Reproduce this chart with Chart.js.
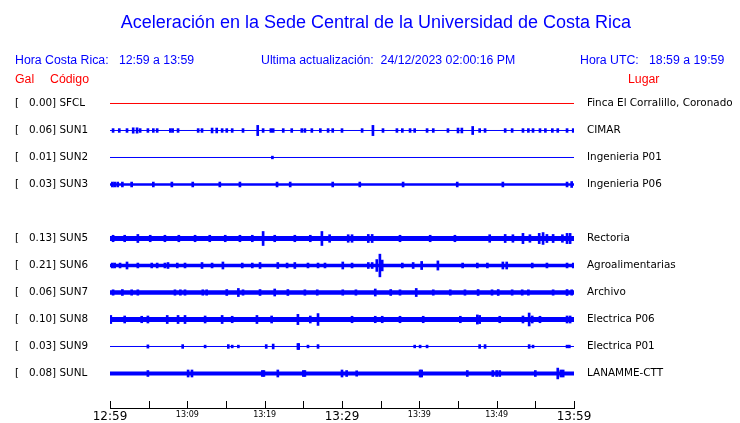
<!DOCTYPE html>
<html>
<head>
<meta charset="utf-8">
<script src="https://cdn.jsdelivr.net/npm/chart.js@4/dist/chart.umd.min.js"></script>
<style>
  html, body { margin: 0; padding: 0; background: #fff; }
  #wrap { position: relative; width: 740px; height: 423px; overflow: hidden; }
  #wrap canvas { position: absolute; left: 0; top: 0; }
  .t { position: absolute; white-space: pre; font-family: "Liberation Sans", Arial, sans-serif; line-height: 1; }
  .title { font-size: 18px; color: #0000ff; top: 13px; left: 0; width: 752px; text-align: center; }
  .hdr { font-size: 12.3px; color: #0000ff; top: 54px; }
  .red { font-size: 12.3px; color: #ff0000; top: 73px; }
</style>
</head>
<body>
<div id="wrap">
  <canvas id="seis" width="740" height="423"></canvas>
  <div class="t title">Aceleración en la Sede Central de la Universidad de Costa Rica</div>
  <div class="t hdr" style="left:15px">Hora Costa Rica:   12:59 a 13:59</div>
  <div class="t hdr" style="left:261px">Ultima actualización:  24/12/2023 02:00:16 PM</div>
  <div class="t hdr" style="left:580px">Hora UTC:   18:59 a 19:59</div>
  <div class="t red" style="left:15px">Gal</div>
  <div class="t red" style="left:50px">Código</div>
  <div class="t red" style="left:628px">Lugar</div>
</div>
<script>
// ------- data -------
const codes  = ['SFCL', 'SUN1', 'SUN2', 'SUN3', 'SUN5', 'SUN6', 'SUN7', 'SUN8', 'SUN9', 'SUNL'];
const gal    = ['0.00', '0.06', '0.01', '0.03', '0.13', '0.21', '0.06', '0.10', '0.03', '0.08'];
const places = ['Finca El Corralillo, Coronado', 'CIMAR', 'Ingenieria P01', 'Ingenieria P06', 'Rectoria',
                'Agroalimentarias', 'Archivo', 'Electrica P06', 'Electrica P01', 'LANAMME-CTT'];
const rows   = [0, 1, 2, 3, 5, 6, 7, 8, 9, 10];          // trace slot (row 4 is empty)
const bandHalf = [0, 0, 0, 0.05, 0.09, 0.065, 0.08, 0.095, 0, 0.07]; // steady noise half-width, rows
const timeLabels  = ['12:59', '13:09', '13:19', '13:29', '13:39', '13:49', '13:59'];
const tickMinutes = [0, 5, 10, 15, 20, 25, 30, 35, 40, 45, 50, 55, 60];

// bursts: [minute after 12:59, half-amplitude in rows]
const spikesSFCL = [];
const spikesSUN1 = [[0.4,.07],[1.2,.07],[2.2,.07],[3.0,.1],[3.5,.1],[3.9,.07],[4.9,.07],[5.6,.07],[6.1,.07],
  [7.8,.07],[8.1,.07],[8.8,.07],[11.4,.07],[11.9,.07],[13.2,.09],[13.8,.09],[14.5,.07],[15.1,.07],[15.8,.07],
  [17.2,.07],[19.1,.19],[19.8,.07],[20.8,.07],[21.1,.07],[22.4,.07],[23.5,.07],[24.8,.07],[25.2,.07],[26.1,.07],
  [27.2,.07],[28.2,.07],[28.8,.07],[30.0,.07],[32.6,.07],[34.0,.19],[35.3,.07],[37.1,.07],[37.8,.07],[38.8,.07],
  [39.4,.07],[41.0,.07],[41.8,.07],[43.7,.07],[45.0,.09],[45.5,.09],[46.9,.15],[47.8,.07],[48.5,.07],[51.1,.07],
  [52.0,.07],[53.4,.07],[54.1,.07],[54.7,.07],[55.6,.07],[56.3,.07],[57.2,.07],[57.9,.07],[59.1,.07],[59.9,.07]];
const spikesSUN2 = [[21.0,.05]];
const spikesSUN3 = [[0.3,.09],[0.6,.09],[1.0,.09],[1.6,.09],[2.8,.09],[5.6,.09],[8.0,.09],[10.7,.09],[14.2,.09],
  [16.8,.09],[21.6,.09],[23.3,.09],[28.8,.09],[32.3,.09],[37.9,.09],[44.9,.09],[50.8,.09],[59.1,.09],[59.7,.11]];
const spikesSUN5 = [[0.4,.12],[1.9,.12],[3.6,.15],[5.2,.12],[7.1,.12],[8.9,.12],[11.0,.12],[12.9,.12],[14.9,.12],
  [16.8,.12],[18.4,.12],[19.8,.26],[21.3,.12],[23.9,.12],[25.9,.12],[27.4,.26],[28.4,.14],[30.8,.14],[31.3,.14],
  [33.4,.15],[33.9,.15],[37.5,.12],[41.4,.12],[44.6,.12],[49.1,.14],[51.1,.15],[52.1,.14],[53.4,.19],[54.3,.14],
  [55.5,.19],[56.0,.22],[56.5,.15],[57.3,.15],[58.5,.14],[59.1,.19],[59.5,.19]];
const spikesSUN6 = [[0.3,.09],[0.6,.09],[1.3,.09],[2.2,.13],[3.6,.09],[5.4,.09],[6.1,.09],[7.1,.09],[7.5,.11],
  [8.7,.09],[9.7,.09],[11.9,.11],[13.2,.09],[14.6,.13],[17.1,.09],[18.4,.09],[19.4,.11],[21.7,.11],[22.9,.09],
  [23.9,.11],[25.6,.09],[26.9,.09],[27.8,.09],[30.1,.13],[31.3,.09],[33.4,.11],[33.9,.11],[34.5,.22],[34.9,.42],
  [35.2,.2],[37.8,.09],[39.2,.11],[40.3,.15],[42.4,.17],[45.6,.09],[47.5,.09],[48.8,.09],[50.8,.13],[51.3,.13],
  [54.6,.09],[56.5,.09],[59.1,.09],[59.9,.09]];
const spikesSUN7 = [[0.4,.1],[1.6,.11],[2.8,.1],[3.6,.1],[8.4,.1],[9.1,.1],[9.7,.1],[12.0,.1],[12.5,.1],
  [15.1,.11],[16.6,.15],[17.2,.1],[19.4,.11],[21.3,.13],[23.0,.11],[25.2,.1],[26.8,.1],[30.1,.1],[31.8,.1],
  [34.3,.13],[36.3,.11],[37.5,.1],[39.6,.15],[41.8,.1],[44.0,.1],[45.9,.1],[47.6,.11],[49.4,.1],[50.2,.11],
  [52.0,.1],[53.3,.1],[54.1,.1],[57.3,.1],[59.1,.11],[59.7,.1]];
const spikesSUN8 = [[0.1,.15],[1.9,.13],[4.1,.12],[4.9,.13],[7.4,.15],[8.8,.15],[9.7,.15],[12.3,.13],[14.5,.15],
  [15.8,.12],[19.0,.15],[20.9,.13],[24.3,.19],[25.9,.13],[26.9,.22],[31.3,.12],[34.3,.12],[35.2,.12],[37.5,.12],
  [40.5,.12],[45.3,.12],[47.5,.17],[47.8,.15],[50.4,.12],[53.4,.13],[54.2,.24],[54.6,.13],[55.6,.12],[59.1,.13],
  [59.5,.13]];
const spikesSUN9 = [[4.9,.06],[9.4,.07],[12.3,.05],[15.3,.07],[15.8,.05],[16.6,.05],[20.2,.07],[21.1,.09],
  [24.3,.11],[24.4,.11],[25.6,.05],[26.9,.07],[39.4,.05],[40.1,.05],[41.0,.05],[47.8,.07],[48.5,.07],[54.2,.07],
  [54.7,.05],[59.1,.05],[59.4,.05]];
const spikesSUNL = [[4.9,.11],[10.1,.13],[10.6,.13],[19.7,.11],[19.9,.11],[21.7,.13],[25.0,.11],[25.2,.11],
  [30.0,.13],[30.6,.11],[31.9,.1],[40.1,.13],[40.3,.13],[46.2,.11],[49.5,.11],[50.0,.11],[50.4,.11],[55.0,.11],
  [57.9,.2],[58.3,.13],[58.6,.13]];
const spikes = [spikesSFCL, spikesSUN1, spikesSUN2, spikesSUN3, spikesSUN5,
                spikesSUN6, spikesSUN7, spikesSUN8, spikesSUN9, spikesSUNL];

// ------- datasets -------
const BLUE = '#0000ff', RED = '#ff0000';
const datasets = [];
rows.forEach((r, i) => {
  const color = i === 0 ? RED : BLUE;
  const h = bandHalf[i];
  if (h > 0) {
    datasets.push({ type: 'line', data: [{ x: 0, y: r - h }, { x: 60, y: r - h }],
      fill: { value: r + h }, backgroundColor: color, borderWidth: 0, pointRadius: 0 });
  }
  datasets.push({ type: 'line', data: [{ x: 0, y: r }, { x: 60, y: r }],
    borderColor: color, borderWidth: 1, pointRadius: 0, fill: false });
  if (spikes[i].length) {
    datasets.push({ type: 'bar', grouped: false, barThickness: 2, borderWidth: 0, backgroundColor: color,
      data: spikes[i].map(([m, a]) => ({ x: m, y: [r - a, r + a] })) });
  }
});

// ticks pointing up from the time axis
const upTicks = {
  id: 'upTicks',
  afterDraw(chart) {
    const xs = chart.scales.x, ctx = chart.ctx;
    ctx.save();
    ctx.strokeStyle = '#000';
    ctx.lineWidth = 1;
    xs.ticks.forEach(t => {
      const px = Math.round(xs.getPixelForValue(t.value)) + 0.5;
      ctx.beginPath();
      ctx.moveTo(px, xs.top);
      ctx.lineTo(px, xs.top - 7);
      ctx.stroke();
    });
    ctx.restore();
  }
};

const labelFont = { family: 'DejaVu Sans', size: 10.4 };
const rowTicks = s => { s.ticks = rows.map(v => ({ value: v })); };
const fitY = w => s => { s.width = w; s.paddingTop = 0; s.paddingBottom = 0; };
const yBase = { type: 'linear', reverse: true, min: -0.5, max: 11.278,
  grid: { display: false, drawTicks: false }, border: { display: false } };

new Chart(document.getElementById('seis'), {
  type: 'line',
  data: { datasets },
  options: {
    responsive: false, animation: false, events: [],
    layout: { padding: { left: 15, top: 90, right: 0, bottom: 0 } },
    plugins: { legend: { display: false }, tooltip: { enabled: false } },
    scales: {
      x: {
        type: 'linear', min: 0, max: 60, offset: false,
        grid: { display: false, drawTicks: false, offset: false },
        border: { display: true, color: '#000', width: 1 },
        afterBuildTicks: s => { s.ticks = tickMinutes.map(v => ({ value: v })); },
        afterFit: s => { s.height = 15; },
        ticks: {
          autoSkip: false, maxRotation: 0, minRotation: 0, padding: 2, color: '#000',
          font: c => ({ family: 'DejaVu Sans', size: c.tick && c.tick.value % 30 === 0 ? 12 : 8 }),
          callback: v => (v % 10 === 0 ? timeLabels[v / 10] : '')
        }
      },
      y: {
        ...yBase, position: 'left',
        afterBuildTicks: rowTicks,
        afterFit: fitY(95),
        ticks: { crossAlign: 'far', color: '#000', font: labelFont, padding: 0,
          callback: v => { const i = rows.indexOf(v); return `[   ${gal[i]}] ${codes[i]}`; } }
      },
      y2: {
        ...yBase, position: 'right',
        afterBuildTicks: rowTicks,
        afterFit: fitY(166),
        ticks: { crossAlign: 'near', color: '#000', font: labelFont, padding: 13,
          callback: v => places[rows.indexOf(v)] }
      }
    }
  },
  plugins: [upTicks]
});
</script>
</body>
</html>
